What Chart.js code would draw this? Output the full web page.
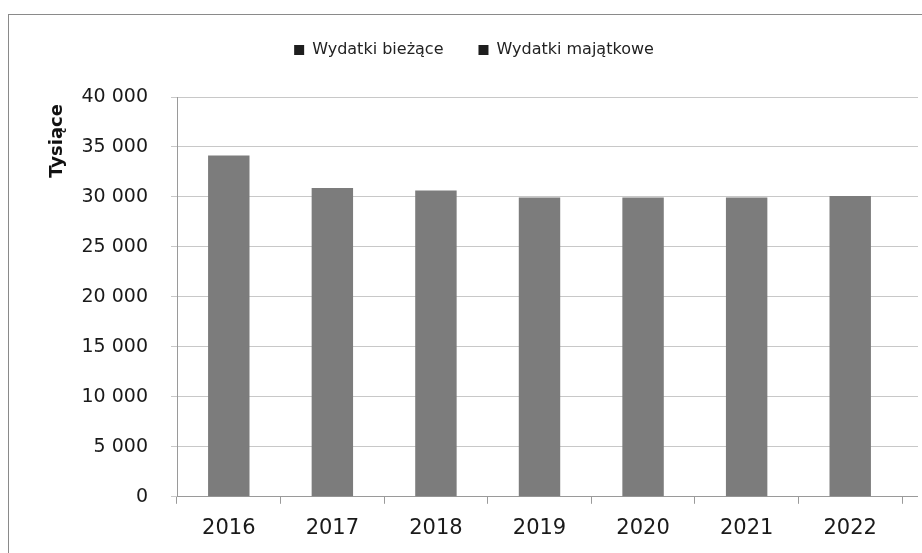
<!DOCTYPE html>
<html>
<head>
<meta charset="utf-8">
<script src="https://cdn.jsdelivr.net/npm/chart.js@4/dist/chart.umd.min.js"></script>
<style>
  html, body { margin: 0; padding: 0; background: #fff; }
  #wrap { position: relative; width: 922px; height: 553px; overflow: hidden; }
  #frame { position: absolute; left: 8px; top: 14px; width: 1000px; height: 1000px; border: 1px solid #8a8a8a; box-sizing: border-box; }
  canvas { position: absolute; left: 0; top: 0; }
</style>
</head>
<body>
<div id="wrap">
  <div id="frame"></div>
  <canvas id="c" width="922" height="553"></canvas>
</div>
<script>
const categories = ["2016", "2017", "2018", "2019", "2020", "2021", "2022"];
const wydatkiBiezace = [34150, 30900, 30650, 29950, 29950, 29950, 30100];
const wydatkiMajatkowe = [0, 0, 0, 0, 0, 0, 0];
const seriesNames = ["Wydatki bieżące", "Wydatki majątkowe"];
const yTitle = "Tysiące";

const FONT = "'DejaVu Sans', sans-serif";

const legendSpace = {
  id: 'legendSpace',
  beforeInit(chart) {
    const lg = chart.legend;
    if (!lg) return;
    const origFit = lg.fit.bind(lg);
    lg.fit = function () { origFit(); this.height += 30; };
    const origDraw = lg.draw.bind(lg);
    lg.draw = function () {
      const ctx = chart.ctx;
      ctx.save();
      ctx.translate(23, 1);
      origDraw();
      ctx.restore();
    };
  }
};

function alignPx(p) { return Math.round(p - 0.5) + 0.5; }

const yTitlePlugin = {
  id: 'yTitlePlugin',
  afterDraw(chart) {
    const ctx = chart.ctx;
    const area = chart.chartArea;
    const y = chart.scales.y;
    ctx.save();
    ctx.strokeStyle = '#c8c8c8';
    ctx.lineWidth = 1;
    y.ticks.forEach((t) => {
      if (t.value === 0) return;
      const py = alignPx(y.getPixelForValue(t.value));
      ctx.beginPath();
      ctx.moveTo(area.right, py);
      ctx.lineTo(918, py);
      ctx.stroke();
    });
    ctx.strokeStyle = '#9a9a9a';
    const by = alignPx(area.bottom);
    ctx.beginPath(); ctx.moveTo(area.right, by); ctx.lineTo(918, by); ctx.stroke();
    ctx.translate(57, (y.getPixelForValue(40000) + y.getPixelForValue(30000)) / 2 - 6);
    ctx.rotate(-Math.PI / 2);
    ctx.font = "bold 18px " + FONT;
    ctx.fillStyle = '#111';
    ctx.textAlign = 'center';
    ctx.textBaseline = 'middle';
    ctx.fillText(yTitle, 0, 0);
    ctx.restore();
  }
};

new Chart(document.getElementById('c'), {
  type: 'bar',
  data: {
    labels: categories,
    datasets: [
      { label: seriesNames[0], data: wydatkiBiezace, backgroundColor: '#7c7c7c', borderWidth: 0 },
      { label: seriesNames[1], data: wydatkiMajatkowe, backgroundColor: '#5a5a5a', borderWidth: 0 }
    ]
  },
  plugins: [legendSpace, yTitlePlugin],
  options: {
    responsive: false,
    animation: false,
    devicePixelRatio: 1,
    layout: { padding: { left: 0, right: 20, top: 6, bottom: 0 } },
    datasets: { bar: { categoryPercentage: 1.0, barPercentage: 0.4 } },
    plugins: {
      tooltip: { enabled: false },
      legend: {
        position: 'top',
        labels: {
          font: { family: FONT, size: 16 },
          color: '#222',
          boxWidth: 10,
          boxHeight: 10,
          padding: 35,
          generateLabels: (chart) => chart.data.datasets.map((ds, i) => ({
            text: ds.label, fillStyle: '#1e1e1e', strokeStyle: '#1e1e1e', lineWidth: 0, hidden: false, datasetIndex: i, fontColor: '#222'
          }))
        }
      }
    },
    scales: {
      x: {
        stacked: true,
        offset: true,
        grid: { display: true, drawOnChartArea: false, drawTicks: true, tickLength: 7, color: '#9a9a9a', offset: true },
        border: { display: true, color: '#9a9a9a' },
        ticks: { font: { family: FONT, size: 21 }, color: '#1a1a1a', padding: 12 }
      },
      y: {
        stacked: true,
        min: 0,
        max: 40000,
        afterFit: (s) => { s.width = 177; },
        ticks: {
          stepSize: 5000,
          font: { family: FONT, size: 19 },
          color: '#1a1a1a',
          padding: 23,
          callback: (v) => String(v).replace(/\B(?=(\d{3})+(?!\d))/g, ' ')
        },
        grid: { color: '#c8c8c8', tickLength: 6, drawTicks: true },
        border: { display: true, color: '#9a9a9a' },
        title: { display: false }
      }
    }
  }
});
</script>
</body>
</html>
